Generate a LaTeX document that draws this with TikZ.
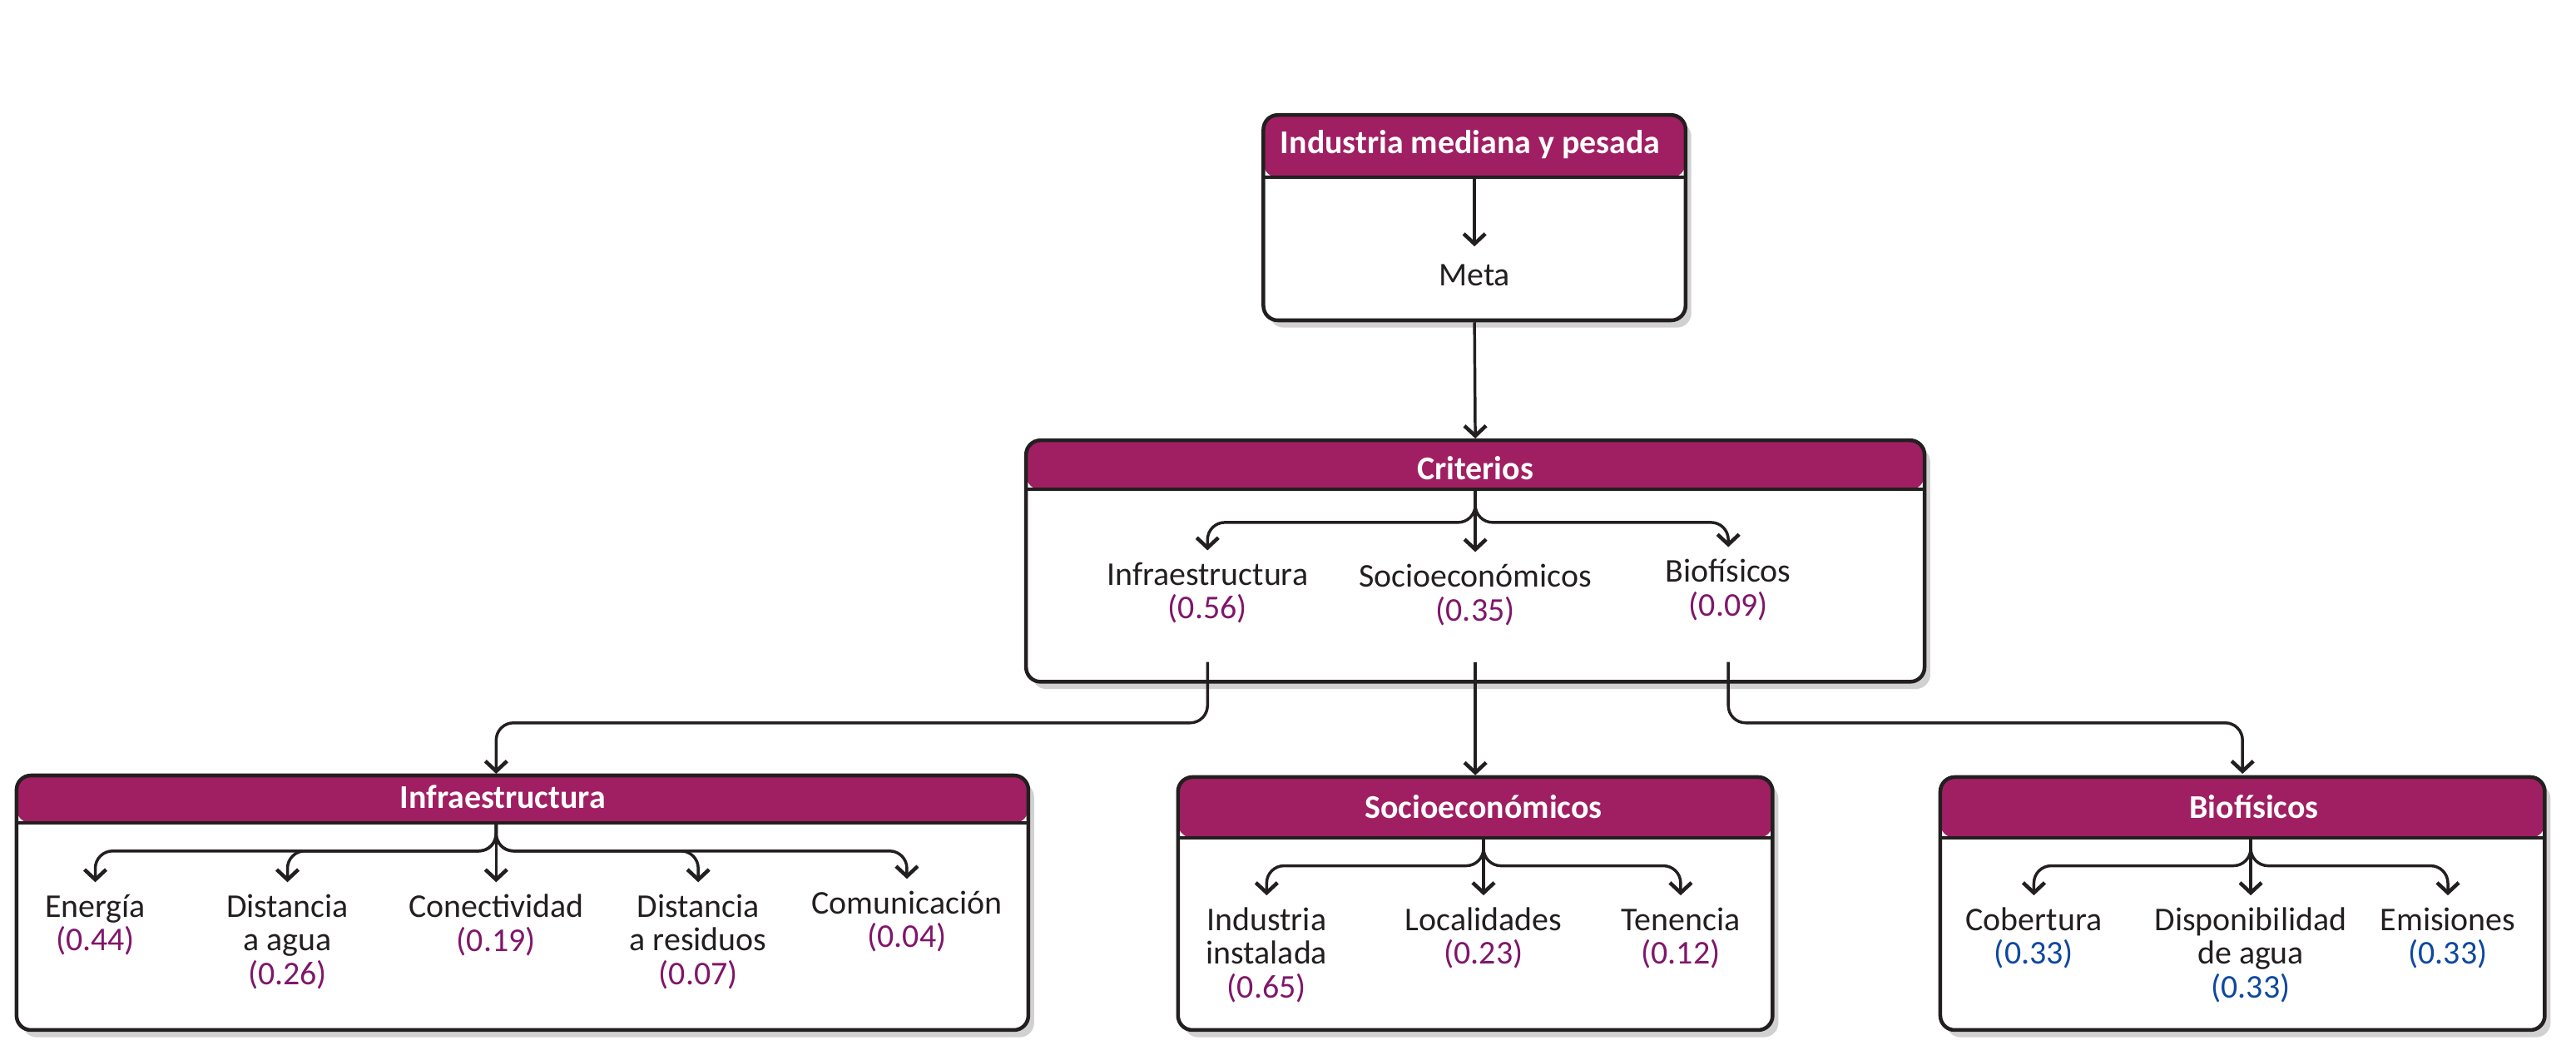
\documentclass[tikz,border=0pt]{standalone}
\usepackage{fontspec}
\setmainfont{Carlito}
\usetikzlibrary{arrows.meta,shadows,positioning,calc}
\definecolor{vino}{RGB}{160,31,98}
\definecolor{morado}{RGB}{128,22,106}
\definecolor{azul}{RGB}{14,72,160}
\definecolor{trazo}{RGB}{35,31,32}

\newcommand{\vm}[1]{\textcolor{morado}{(#1)}}
\newcommand{\va}[1]{\textcolor{azul}{(#1)}}

\tikzset{
  caja/.style={rectangle,draw=trazo,line width=1.3pt,rounded corners=5pt,fill=white,inner sep=0pt,
    drop shadow={shadow xshift=2pt,shadow yshift=-2.5pt,opacity=.3,fill=black!60},
    path picture={
      \fill[vino] (path picture bounding box.north west) rectangle ([yshift=-#1]path picture bounding box.north east);
      \draw[trazo,line width=1.2pt] ([yshift=-#1]path picture bounding box.north west) -- ([yshift=-#1]path picture bounding box.north east);
    }},
  titulo/.style={font=\bfseries\fontsize{11.5}{12}\selectfont,text=white,inner sep=0pt},
  hijo/.style={align=center,anchor=north,inner xsep=1pt,inner ysep=4pt,text=trazo,font=\fontsize{11.5}{11.7}\selectfont},
  flecha/.style={draw=trazo,line width=1pt,rounded corners=6pt,-{Straight Barb[length=3.5pt,width=7.5pt,line width=1.3pt]}}
}

\begin{document}
\begin{tikzpicture}[x=0.02cm,y=-0.02cm]
\useasboundingbox (0,0) rectangle (1568,645);
% cajas
\node (meta0) at (897.5,132.5) [caja=0.76cm,minimum width=5.14cm,minimum height=2.5cm] {};
\node (crit) at (898,341.5) [caja=0.6cm,minimum width=10.94cm,minimum height=2.94cm] {};
\node (infra) at (318,549.5) [caja=0.58cm,minimum width=12.32cm,minimum height=3.1cm] {};
\node (socio) at (898,550) [caja=0.74cm,minimum width=7.24cm,minimum height=3.08cm] {};
\node (bio) at (1365,550) [caja=0.74cm,minimum width=7.36cm,minimum height=3.08cm] {};

% titulos
\node (tMeta) at (895,88) [titulo] {Industria mediana y pesada};
\node (tCrit) at (898,285) [titulo] {Criterios};
\node (tInfra) at (306,485) [titulo] {Infraestructura};
\node (tSocio) at (903,491) [titulo] {Socioecon\'omicos};
\node (tBio) at (1372,491) [titulo] {Biof\'isicos};

% textos
\node (meta) at (897.5,150) [hijo,inner ysep=6pt] {Meta};

\node (cInf) at (735,335) [hijo] {Infraestructura\\\vm{0.56}};
\node (cSoc) at (898,336) [hijo] {Socioecon\'omicos\\\vm{0.35}};
\node (cBio) at (1052,333) [hijo] {Biof\'isicos\\\vm{0.09}};

\node (energia) at (58,537) [hijo] {Energ\'ia\\\vm{0.44}};
\node (agua) at (175,537) [hijo] {Distancia\\a agua\\\vm{0.26}};
\node (conec) at (302,537) [hijo] {Conectividad\\\vm{0.19}};
\node (resid) at (425,537) [hijo] {Distancia\\a residuos\\\vm{0.07}};
\node (comun) at (552,535) [hijo] {Comunicaci\'on\\\vm{0.04}};

\node (indus) at (771,545) [hijo] {Industria\\instalada\\\vm{0.65}};
\node (local) at (903,545) [hijo] {Localidades\\\vm{0.23}};
\node (tenen) at (1023,545) [hijo] {Tenencia\\\vm{0.12}};

\node (cober) at (1238,545) [hijo] {Cobertura\\\va{0.33}};
\node (dispo) at (1370,545) [hijo] {Disponibilidad\\de agua\\\va{0.33}};
\node (emis) at (1490,545) [hijo] {Emisiones\\\va{0.33}};

% puntos de union
\coordinate (hMeta) at (897.5,108);
\coordinate (hCrit) at (898,298);
\coordinate (jCrit) at (898,318);
\coordinate (hInfra) at (302,501);
\coordinate (jInfra) at (302,518);
\coordinate (hSocio) at (903,510);
\coordinate (jSocio) at (903,527);
\coordinate (hBio) at (1370,510);
\coordinate (jBio) at (1370,527);
\coordinate (sInf) at (735,403);
\coordinate (sSoc) at (898,403);
\coordinate (sBio) at (1052,403);
\coordinate (eInf) at (302,471);
\coordinate (eBio) at (1365,471);

% conectores
\draw[flecha] (hMeta) -- (meta.north);
\draw[flecha] (meta0.south) -- (crit.north);

\draw[flecha] (hCrit) -- (jCrit) -| (cInf.north);
\draw[flecha] (hCrit) -- (cSoc.north);
\draw[flecha] (hCrit) -- (jCrit) -| (cBio.north);

\draw[flecha] (sInf) --++ (0,37) -| (eInf);
\draw[flecha] (sSoc) -- (socio.north);
\draw[flecha] (sBio) --++ (0,37) -| (eBio);

\draw[flecha] (hInfra) -- (jInfra) -| (energia.north);
\draw[flecha] (hInfra) -- (jInfra) -| (agua.north);
\draw[flecha] (hInfra) -- (conec.north);
\draw[flecha] (hInfra) -- (jInfra) -| (resid.north);
\draw[flecha] (hInfra) -- (jInfra) -| (comun.north);

\draw[flecha] (hSocio) -- (jSocio) -| (indus.north);
\draw[flecha] (hSocio) -- (local.north);
\draw[flecha] (hSocio) -- (jSocio) -| (tenen.north);

\draw[flecha] (hBio) -- (jBio) -| (cober.north);
\draw[flecha] (hBio) -- (dispo.north);
\draw[flecha] (hBio) -- (jBio) -| (emis.north);
\end{tikzpicture}
\end{document}
